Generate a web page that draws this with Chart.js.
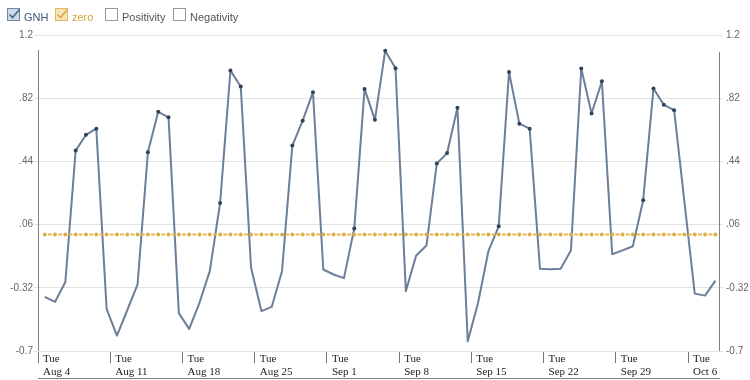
<!DOCTYPE html>
<html>
<head>
<meta charset="utf-8">
<script src="https://cdn.jsdelivr.net/npm/chart.js@4.4.0/dist/chart.umd.min.js"></script>
<style>
body { margin: 0; background: #fff; }
#wrap { position: relative; width: 750px; height: 380px; }
#legend { position: absolute; left: 0; top: 0; width: 300px; height: 30px; font: 11px "Liberation Sans", Arial, sans-serif; }
.item { position: absolute; top: 8px; height: 14px; line-height: 14px; white-space: nowrap; }
.item svg { position: absolute; left: 0; top: 0; overflow: visible; }
.item span { position: absolute; left: 17px; top: 2px; }
</style>
</head>
<body>
<div id="wrap">
  <canvas id="chart" width="750" height="380"></canvas>
  <div id="legend">
    <div class="item" style="left:7px">
      <svg width="13" height="13"><rect x="0.5" y="0.5" width="12" height="12" fill="#cdd9e6" stroke="#6d88a6"/><path d="M2.5 6.5 L5.5 9.5 L12.5 1.5" fill="none" stroke="#4a6585" stroke-width="1.6"/></svg>
      <span style="color:#3d5573">GNH</span>
    </div>
    <div class="item" style="left:55px">
      <svg width="13" height="13"><rect x="0.5" y="0.5" width="12" height="12" fill="#f6e3b8" stroke="#e0b864"/><path d="M2.5 6.5 L5.5 9.5 L12.5 1.5" fill="none" stroke="#d9a842" stroke-width="1.6"/></svg>
      <span style="color:#d4a33c">zero</span>
    </div>
    <div class="item" style="left:105px">
      <svg width="13" height="13"><rect x="0.5" y="0.5" width="12" height="12" fill="#fff" stroke="#999"/></svg>
      <span style="color:#555">Positivity</span>
    </div>
    <div class="item" style="left:173px">
      <svg width="13" height="13"><rect x="0.5" y="0.5" width="12" height="12" fill="#fff" stroke="#999"/></svg>
      <span style="color:#555">Negativity</span>
    </div>
  </div>
</div>
<script>
// Data
var dayOffset = 0.65;
var gnhValues = [
  -0.375, -0.405, -0.285, 0.505, 0.60, 0.637, -0.447, -0.607, -0.455, -0.30,
  0.495, 0.738, 0.705, -0.472, -0.567, -0.41, -0.22, 0.19, 0.986, 0.89,
  -0.20, -0.46, -0.435, -0.22, 0.535, 0.685, 0.856, -0.21, -0.24, -0.262,
  0.036, 0.876, 0.69, 1.105, 1.0, -0.34, -0.126, -0.066, 0.427, 0.49,
  0.762, -0.642, -0.41, -0.10, 0.05, 0.977, 0.667, 0.637, -0.206, -0.208,
  -0.205, -0.096, 0.998, 0.728, 0.922, -0.118, -0.095, -0.07, 0.206, 0.878,
  0.78, 0.748, null, -0.355, -0.367, -0.277
];
var zeroValues = [
  0, 0, 0, 0, 0, 0, 0, 0, 0, 0,
  0, 0, 0, 0, 0, 0, 0, 0, 0, 0,
  0, 0, 0, 0, 0, 0, 0, 0, 0, 0,
  0, 0, 0, 0, 0, 0, 0, 0, 0, 0,
  0, 0, 0, 0, 0, 0, 0, 0, 0, 0,
  0, 0, 0, 0, 0, 0, 0, 0, 0, 0,
  0, 0, 0, 0, 0, 0
];
var weekTicks = [0, 7, 14, 21, 28, 35, 42, 49, 56, 63];
var weekLabels = ['Aug 4', 'Aug 11', 'Aug 18', 'Aug 25', 'Sep 1', 'Sep 8', 'Sep 15', 'Sep 22', 'Sep 29', 'Oct 6'];
var weekdayName = 'Tue';
var yTicks = [-0.7, -0.32, 0.06, 0.44, 0.82, 1.2];

function toPoints(arr) {
  var pts = [];
  for (var i = 0; i < arr.length; i++)
    pts.push({ x: i + dayOffset, y: arr[i] });
  return pts;
}
function fmt(v) {
  var s = String(Math.round(v * 100) / 100);
  if (v > 0 && v < 1) s = s.replace(/^0/, '');
  return s;
}
function setYTicks(scale) {
  scale.ticks = yTicks.map(function (v) { return { value: v }; });
}

// Extra axis lines
var axisLines = {
  id: 'axisLines',
  afterDraw: function (chart) {
    var c = chart.ctx, a = chart.chartArea;
    c.save();
    c.strokeStyle = '#808080';
    c.lineWidth = 1;
    c.beginPath();
    c.moveTo(Math.round(a.left) + 0.5, a.top + 15);
    c.lineTo(Math.round(a.left) + 0.5, a.bottom);
    c.moveTo(Math.round(a.right) + 0.5, a.top + 17);
    c.lineTo(Math.round(a.right) + 0.5, a.bottom);
    c.moveTo(a.left, 378.5);
    c.lineTo(a.right + 1, 378.5);
    c.stroke();
    c.restore();
  }
};

var ctx = document.getElementById('chart').getContext('2d');
var gnhChart = new Chart(ctx, {
  type: 'line',
  data: {
    datasets: [
      {
        label: 'zero',
        data: toPoints(zeroValues),
        borderColor: '#e2b552',
        borderWidth: 2,
        borderDash: [4, 6.32],
        borderDashOffset: 7.16,
        pointRadius: 2,
        pointBorderWidth: 0,
        pointBackgroundColor: '#dcae48',
        order: 0
      },
      {
        label: 'GNH',
        data: toPoints(gnhValues),
        borderColor: '#6b7f98',
        borderWidth: 2,
        borderJoinStyle: 'round',
        tension: 0,
        spanGaps: true,
        pointRadius: function (c) { return c.raw && c.raw.y > 0 ? 2 : 0; },
        pointBorderWidth: 0,
        pointBackgroundColor: '#2f435c',
        order: 1
      }
    ]
  },
  options: {
    responsive: false,
    animation: false,
    layout: { padding: { top: 35, bottom: 2, left: 0, right: 0 } },
    plugins: { legend: { display: false }, tooltip: { enabled: false } },
    scales: {
      x: {
        type: 'linear',
        min: 0,
        max: 66,
        afterBuildTicks: function (s) { s.ticks = weekTicks.map(function (v) { return { value: v }; }); },
        afterFit: function (s) { s.height = 27; },
        grid: { drawOnChartArea: false, drawTicks: true, tickLength: 12, color: '#777' },
        border: { display: false },
        ticks: {
          autoSkip: false,
          maxRotation: 0,
          align: 'start',
          labelOffset: 5,
          padding: -10,
          color: '#222',
          font: { family: '"Liberation Serif", serif', size: 11, lineHeight: 1.15 },
          callback: function (v, i) { return [weekdayName, weekLabels[i]]; }
        }
      },
      y: {
        position: 'left',
        min: -0.7,
        max: 1.2,
        afterBuildTicks: setYTicks,
        afterFit: function (s) { s.width = 38; },
        grid: { color: '#e2e2e2', tickLength: 4 },
        border: { display: false },
        ticks: { padding: 1, color: '#666', font: { family: '"Liberation Sans", Arial', size: 10 }, callback: fmt }
      },
      y2: {
        position: 'right',
        min: -0.7,
        max: 1.2,
        afterBuildTicks: setYTicks,
        afterFit: function (s) { s.width = 31; },
        grid: { drawOnChartArea: false, color: '#e2e2e2', tickLength: 4 },
        border: { display: false },
        ticks: { padding: 3, color: '#666', font: { family: '"Liberation Sans", Arial', size: 10 }, callback: fmt }
      }
    }
  },
  plugins: [axisLines]
});
</script>
</body>
</html>
